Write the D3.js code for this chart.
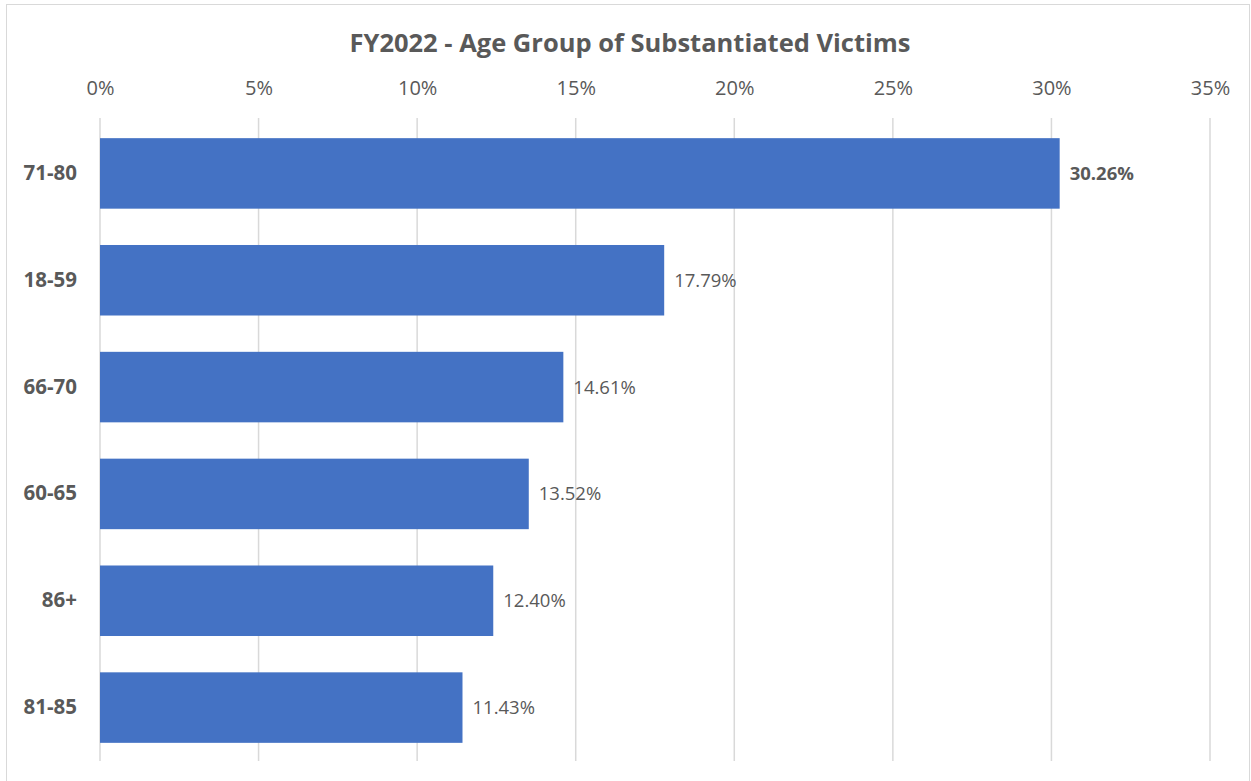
<!DOCTYPE html>
<html><head><meta charset="utf-8">
<script src="https://cdn.jsdelivr.net/npm/d3@7"></script>
<style>body{margin:0;background:#fff}svg{display:block}</style>
</head><body>
<svg id="c" width="1251" height="781"></svg>
<script>
const categories = ["71-80","18-59","66-70","60-65","86+","81-85"];
const values = [30.26, 17.79, 14.61, 13.52, 12.40, 11.43];
const tickValues = [0,5,10,15,20,25,30,35];
const title = "FY2022 - Age Group of Substantiated Victims";

const svg = d3.select("#c");
const font = "'Open Sans', 'Liberation Sans', sans-serif";
const textColor = "#595959";

svg.append("rect").attr("x",6.5).attr("y",4.5).attr("width",1243).attr("height",790)
  .attr("fill","#fff").attr("stroke","#d9d9d9").attr("stroke-width",1);

const x = d3.scaleLinear().domain([0,35]).range([100,1210]);
const y = d3.scaleBand().domain(categories).range([120,761]).paddingInner(0.34).paddingOuter(0.17);

svg.append("text").attr("x",630).attr("y",52).attr("text-anchor","middle")
  .attr("font-family",font).attr("font-weight","bold").attr("font-size",25.5)
  .attr("fill",textColor).text(title);

const gx = svg.append("g").attr("transform","translate(0,120)")
  .call(d3.axisTop(x).tickValues(tickValues).tickSize(0).tickPadding(25).tickFormat(d=>d+"%"));
gx.select(".domain").remove();
gx.selectAll("text").attr("font-family",font).attr("font-size",20).attr("fill",textColor);

svg.append("g").selectAll("line").data(tickValues).join("line")
  .attr("x1",d=>x(d)).attr("x2",d=>x(d)).attr("y1",118).attr("y2",761)
  .attr("stroke","#d9d9d9").attr("stroke-width",1.5);

svg.append("g").selectAll("rect").data(values).join("rect")
  .attr("x",x(0)).attr("y",(d,i)=>y(categories[i]))
  .attr("width",d=>x(d)-x(0)).attr("height",y.bandwidth())
  .attr("fill","#4472C4");

const gy = svg.append("g").attr("transform","translate(100,0)")
  .call(d3.axisLeft(y).tickSize(0).tickPadding(23));
gy.select(".domain").remove();
gy.selectAll("text").attr("font-family",font).attr("font-weight","bold").attr("font-size",20.5).attr("fill",textColor);

svg.append("g").selectAll("text").data(values).join("text")
  .attr("x",d=>x(d)+10).attr("y",(d,i)=>y(categories[i])+y.bandwidth()/2)
  .attr("dy","0.35em").attr("font-family",font).attr("font-size",18.5)
  .attr("font-weight",(d,i)=>i===0?"bold":"normal")
  .attr("fill",textColor).text(d=>d.toFixed(2)+"%");
</script>
</body></html>
